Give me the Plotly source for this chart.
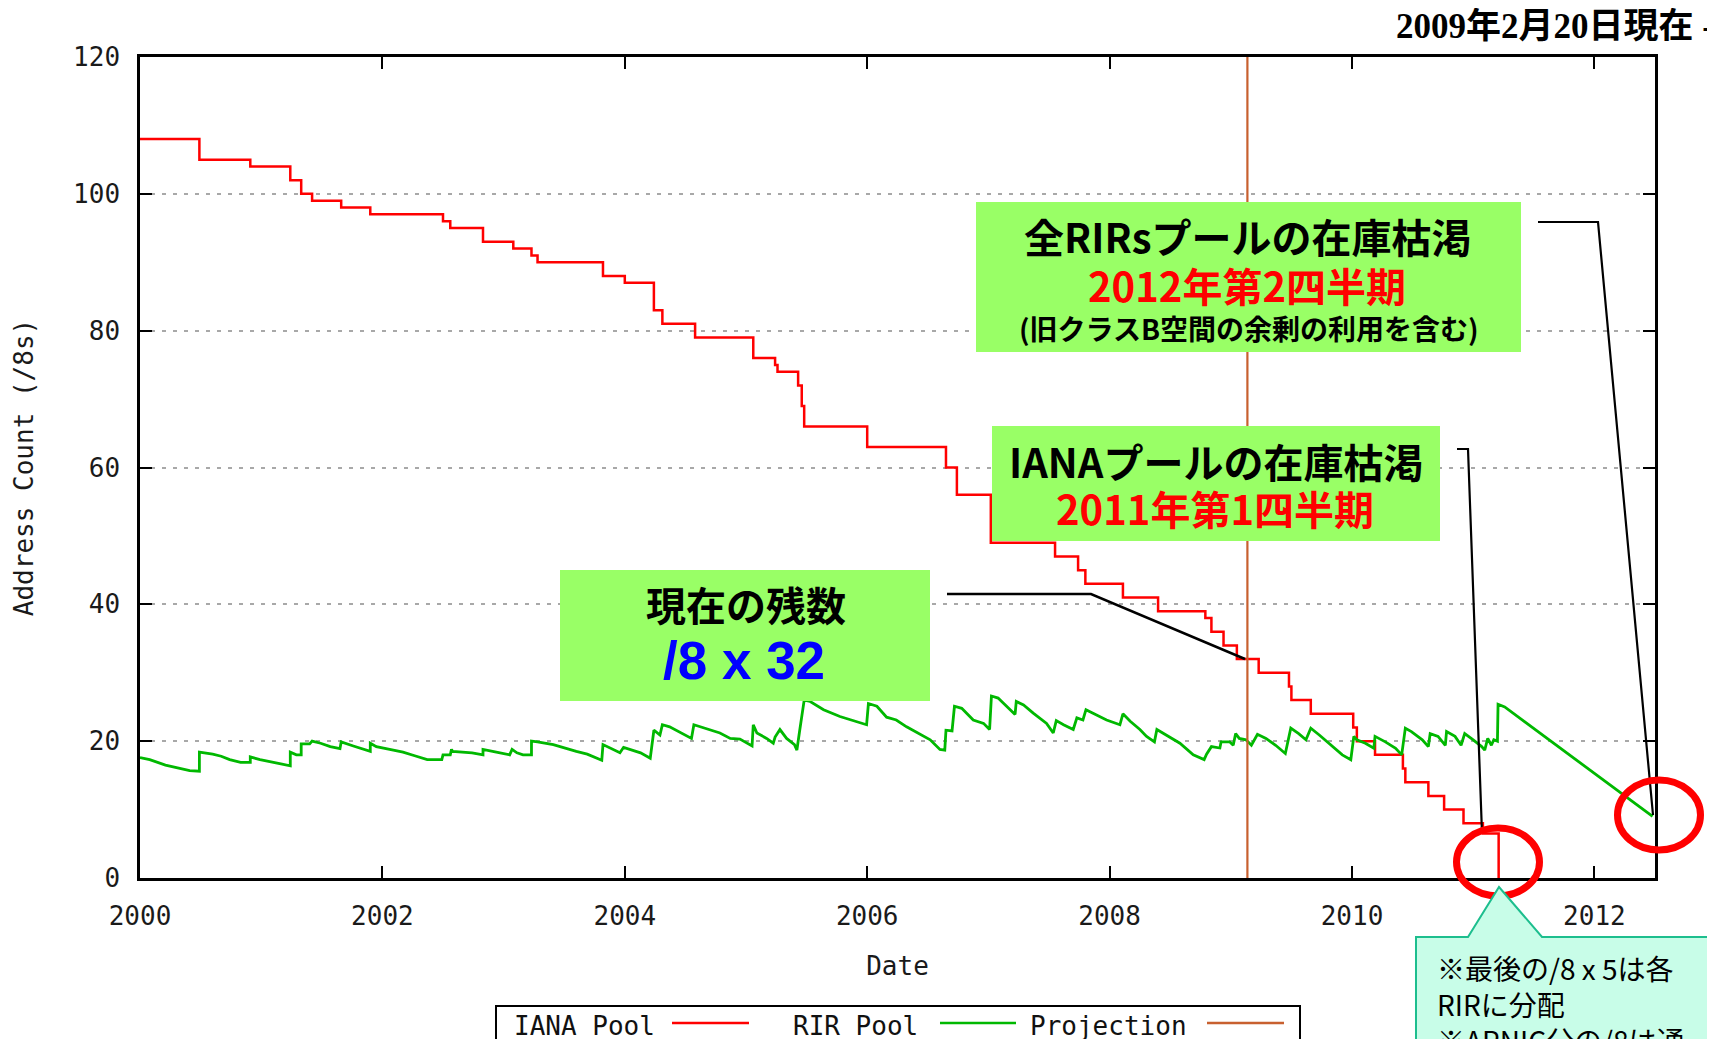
import plotly.graph_objects as go

# ---------------- data ----------------
iana_x = [2000.00, 2000.49, 2000.91, 2001.24, 2001.33, 2001.42, 2001.66, 2001.90,
          2002.50, 2002.56, 2002.83, 2003.08, 2003.23, 2003.28, 2003.82, 2004.00,
          2004.24, 2004.31, 2004.58, 2005.06, 2005.24, 2005.26, 2005.43, 2005.46,
          2005.48, 2006.00, 2006.65, 2006.74, 2007.02, 2007.55, 2007.74, 2007.80,
          2008.11, 2008.40, 2008.79, 2008.84, 2008.94, 2009.05, 2009.23, 2009.48,
          2009.50, 2009.66, 2010.01, 2010.04, 2010.19, 2010.42, 2010.44, 2010.63,
          2010.76, 2010.92, 2011.08, 2011.21]
iana_y = [108, 105, 104, 102, 100, 99, 98, 97,
          96, 95, 93, 92, 91, 90, 88, 87,
          83, 81, 79, 76, 75, 74, 72, 69,
          66, 63, 60, 56, 49, 47, 45, 43,
          41, 39, 38, 36, 34, 32, 30, 28,
          26, 24, 22, 20, 18, 16, 14, 12,
          10, 8, 6.5, 0]

rir_x = [2000.00, 2000.08, 2000.21, 2000.33, 2000.41, 2000.49, 2000.49, 2000.60,
         2000.67, 2000.74, 2000.83, 2000.91, 2000.91, 2000.99, 2001.10, 2001.22,
         2001.24, 2001.24, 2001.29, 2001.33, 2001.33, 2001.40, 2001.42, 2001.49,
         2001.57, 2001.65, 2001.66, 2001.76, 2001.83, 2001.90, 2001.90, 2001.95,
         2002.06, 2002.17, 2002.26, 2002.37, 2002.49, 2002.50, 2002.56, 2002.57,
         2002.58, 2002.74, 2002.83, 2002.83, 2002.94, 2003.05, 2003.07, 2003.11,
         2003.16, 2003.23, 2003.23, 2003.28, 2003.41, 2003.52, 2003.60, 2003.69,
         2003.81, 2003.82, 2003.91, 2003.96, 2003.99, 2004.04, 2004.13, 2004.21,
         2004.24, 2004.29, 2004.31, 2004.37, 2004.455, 2004.55, 2004.57, 2004.66,
         2004.785, 2004.87, 2004.95, 2005.05, 2005.06, 2005.09, 2005.17, 2005.225,
         2005.24, 2005.28, 2005.335, 2005.40, 2005.42, 2005.44, 2005.46, 2005.48,
         2005.53, 2005.64, 2005.775, 2005.91, 2005.995, 2006.01, 2006.08, 2006.16,
         2006.24, 2006.325, 2006.41, 2006.52, 2006.60, 2006.64, 2006.65, 2006.70,
         2006.72, 2006.78, 2006.875, 2006.96, 2007.01, 2007.025, 2007.08, 2007.15,
         2007.22, 2007.23, 2007.29, 2007.37, 2007.48, 2007.535, 2007.56, 2007.62,
         2007.70, 2007.73, 2007.78, 2007.805, 2007.865, 2007.975, 2008.085, 2008.11,
         2008.17, 2008.25, 2008.305, 2008.37, 2008.39, 2008.47, 2008.58, 2008.69,
         2008.78, 2008.80, 2008.84, 2008.91, 2008.92, 2008.99, 2009.02, 2009.04,
         2009.07, 2009.125, 2009.17, 2009.22, 2009.29, 2009.37, 2009.45, 2009.495,
         2009.56, 2009.62, 2009.66, 2009.73, 2009.84, 2009.92, 2009.99, 2010.015,
         2010.04, 2010.11, 2010.18, 2010.19, 2010.275, 2010.36, 2010.41, 2010.44,
         2010.49, 2010.58, 2010.63, 2010.645, 2010.71, 2010.77, 2010.78, 2010.85,
         2010.90, 2010.93, 2011.00, 2011.07, 2011.095, 2011.12, 2011.15, 2011.17,
         2011.20, 2011.205, 2011.26, 2012.48]
rir_y = [17.6, 17.3, 16.5, 16.0, 15.7, 15.6, 18.4, 18.1,
         17.8, 17.3, 16.9, 16.9, 17.7, 17.3, 16.9, 16.4,
         16.4, 18.4, 18.0, 18.0, 19.6, 19.6, 20.0, 19.7,
         19.2, 18.9, 19.9, 19.3, 18.9, 18.5, 19.7, 19.2,
         18.8, 18.4, 17.9, 17.3, 17.3, 18.0, 18.0, 18.8,
         18.5, 18.3, 18.0, 18.8, 18.4, 18.0, 18.8, 18.3,
         18.0, 18.0, 20.0, 19.9, 19.5, 18.9, 18.5, 18.1,
         17.2, 19.5, 18.8, 18.3, 19.1, 18.8, 18.3, 17.5,
         21.6, 20.9, 22.4, 22.1, 21.3, 20.4, 22.4, 21.9,
         21.2, 20.4, 20.3, 19.3, 22.4, 21.2, 20.4, 19.7,
         20.6, 21.7, 20.4, 19.5, 18.7, 21.2, 23.6, 26.0,
         25.8, 24.6, 23.6, 22.9, 22.4, 25.5, 25.1, 23.5,
         23.1, 22.1, 21.3, 20.2, 18.8, 18.7, 21.6, 21.5,
         25.1, 24.8, 23.1, 22.6, 21.7, 26.6, 26.3, 25.1,
         23.9, 25.8, 25.3, 24.1, 22.6, 21.2, 23.0, 22.4,
         21.7, 23.4, 23.1, 24.6, 24.1, 23.1, 22.4, 24.0,
         22.9, 21.7, 20.7, 19.9, 21.7, 20.9, 19.7, 18.0,
         17.3, 18.1, 19.2, 19.0, 19.9, 19.9, 19.4, 21.1,
         20.4, 20.2, 19.4, 21.0, 20.4, 19.4, 18.2, 21.9,
         21.1, 20.2, 21.9, 20.9, 19.2, 18.0, 17.3, 20.7,
         20.2, 19.7, 18.96, 20.7, 19.9, 18.96, 18.0, 21.9,
         21.4, 20.2, 19.2, 21.1, 20.7, 19.4, 21.4, 20.7,
         19.4, 21.1, 20.2, 19.2, 18.7, 20.4, 19.4, 20.2,
         20.0, 25.4, 25.0, 9.0]

proj_x = [2009.137, 2009.137]
proj_y = [0, 120]

series_names = ["IANA Pool", "RIR Pool", "Projection"]
x_tick_vals = [2000, 2002, 2004, 2006, 2008, 2010, 2012]
x_tick_text = ["2000", "2002", "2004", "2006", "2008", "2010", "2012"]
y_tick_vals = [0, 20, 40, 60, 80, 100, 120]
y_tick_text = ["0", "20", "40", "60", "80", "100", "120"]

# ---------------- layout helpers (screen pixel -> paper) ----------------
OFF = 8                      # page body margin
W, H = 1715 - OFF, 1039 - OFF
L, R, T, B = 140, 1655, 57, 878   # plot area in screen pixels


def px(x):
    return (x - L) / (R - L)


def py(y):
    return (B - y) / (B - T)


RED = "#FF0000"
GREEN = "#00B800"
ORANGE = "#C8602F"
BOXG = "#99FF66"
MONO = "DejaVu Sans Mono"
CJK = "Noto Sans CJK JP"

fig = go.Figure()
fig.add_trace(go.Scatter(x=iana_x, y=iana_y, mode="lines", name=series_names[0],
                         line=dict(color=RED, width=2.5, shape="hv")))
fig.add_trace(go.Scatter(x=rir_x, y=rir_y, mode="lines", name=series_names[1],
                         line=dict(color=GREEN, width=2.8)))
fig.add_trace(go.Scatter(x=proj_x, y=proj_y, mode="lines", name=series_names[2],
                         line=dict(color=ORANGE, width=2.2)))

shapes = []
annotations = []


def rect(x0, y0, x1, y1, fill, line=None, lw=0):
    shapes.append(dict(type="rect", xref="paper", yref="paper", layer="above",
                       x0=px(x0), x1=px(x1), y0=py(y1), y1=py(y0),
                       fillcolor=fill, line=dict(width=lw, color=line or fill)))


def poly(points, color, width, fill=None, close=False):
    d = "M " + " L ".join(f"{px(a):.5f},{py(b):.5f}" for a, b in points)
    if close:
        d += " Z"
    s = dict(type="path", xref="paper", yref="paper", layer="above", path=d,
             line=dict(color=color, width=width))
    if fill:
        s["fillcolor"] = fill
    shapes.append(s)


def text(x, y, s, size, color="black", family=CJK, bold=False, xanchor="center"):
    annotations.append(dict(xref="paper", yref="paper", x=px(x), y=py(y), text=s,
                            showarrow=False, xanchor=xanchor, yanchor="middle",
                            borderpad=0,
                            font=dict(family=family, size=size, color=color,
                                      weight="bold" if bold else "normal")))


# green callout boxes
rect(976, 202, 1521, 352, BOXG)
rect(992, 426, 1440, 541, BOXG)
rect(560, 570, 930, 701, BOXG)

# leader lines
poly([(947, 594), (1091, 594), (1245, 659)], "black", 2.5)
poly([(1457, 449), (1468, 449), (1482, 833)], "black", 2.2)
poly([(1538, 222), (1598, 222), (1653, 815)], "black", 2.2)

# red circles
for cx, cy, rx, ry in [(1498, 862, 41.5, 34), (1659, 815, 41.5, 35)]:
    shapes.append(dict(type="circle", xref="paper", yref="paper", layer="above",
                       x0=px(cx - rx), x1=px(cx + rx), y0=py(cy + ry), y1=py(cy - ry),
                       line=dict(color=RED, width=7)))

# bottom-right note with pointer
poly([(1416, 1060), (1416, 937), (1468, 937), (1499, 887), (1542, 937), (1730, 937),
      (1730, 1060)], "#1DBE8E", 2, fill="#C8FDE8", close=True)

# legend (gnuplot style)
rect(496, 1006, 1300, 1070, "rgba(0,0,0,0)", line="black", lw=2)
leg_items = [(513, 672, 749, RED), (792, 940, 1016, GREEN), (1029, 1207, 1284, ORANGE)]
for name, (tx, l0, l1, col) in zip(series_names, leg_items):
    text(tx, 1026, name, 26, "#111111", MONO, xanchor="left")
    poly([(l0, 1023), (l1, 1023)], col, 2.5)

# box texts
text(1248, 236, "全RIRsプールの在庫枯渇", 40, "black", bold=True)
text(1247, 285, "2012年第2四半期", 40, RED, bold=True)
text(1249, 328, "(旧クラスB空間の余剰の利用を含む)", 28, "black", bold=True)
text(1216, 461, "IANAプールの在庫枯渇", 40, "black", bold=True)
text(1215, 508, "2011年第1四半期", 40, RED, bold=True)
text(746, 604, "現在の残数", 40, "black", bold=True)
text(744, 660, "/8 x 32", 53, "#0000FF", "Liberation Sans", bold=True)

# note text
text(1436, 968, "※最後の/8 x 5は各", 28, "black", xanchor="left")
text(1436, 1004, "RIRに分配", 28, "black", xanchor="left")
text(1436, 1040, "※APNIC分の/8は通", 28, "black", xanchor="left")

# date stamp
text(1395, 27, "2009年2月20日現在 -", 35, "black", "Liberation Serif, Noto Sans CJK JP",
     bold=True, xanchor="left")

axis_common = dict(showline=True, linecolor="black", linewidth=2.5, mirror="ticks",
                   ticks="inside", ticklen=12, tickwidth=2, tickcolor="black",
                   tickfont=dict(family=MONO, size=26, color="#1a1a1a"),
                   zeroline=False)

fig.update_layout(
    width=W, height=H, autosize=False,
    margin=dict(l=L - OFF, r=W - (R - OFF), t=T - OFF, b=H - (B - OFF), autoexpand=False),
    paper_bgcolor="white", plot_bgcolor="white",
    showlegend=False,
    xaxis=dict(range=[2000, 2012.5], tickmode="array", tickvals=x_tick_vals,
               ticktext=x_tick_text, showgrid=False, ticklabelstandoff=13,
               title=dict(text="Date", standoff=27,
                          font=dict(family=MONO, size=26, color="#1a1a1a")),
               **axis_common),
    yaxis=dict(range=[0, 120], tickmode="array", tickvals=y_tick_vals,
               ticktext=y_tick_text, showgrid=True, gridcolor="#A8A8A8",
               gridwidth=2, griddash="4px,7px", ticklabelstandoff=12,
               title=dict(text="Address Count (/8s)", standoff=32,
                          font=dict(family=MONO, size=26, color="#1a1a1a")),
               **axis_common),
    shapes=shapes,
    annotations=annotations,
)

fig.write_html("out.html")
